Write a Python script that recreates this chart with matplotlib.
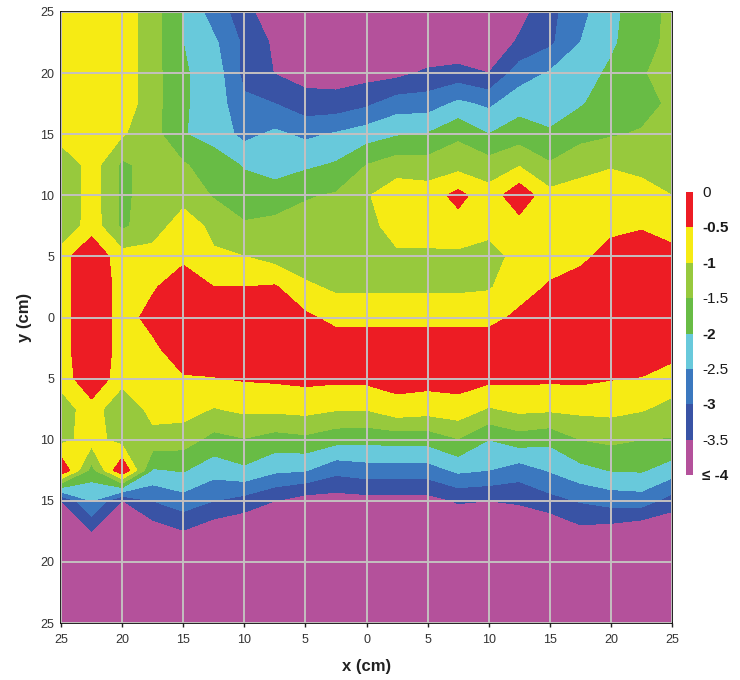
import numpy as np
import matplotlib
matplotlib.use('Agg')
import matplotlib.pyplot as plt
from matplotlib.colors import ListedColormap

plt.rcParams['font.family'] = ['Liberation Sans', 'DejaVu Sans']

# measurement grid (cm)
x = [-25, -22.5, -20, -17.5, -15, -12.5, -10, -7.5, -5, -2.5, 0, 2.5, 5, 7.5, 10, 12.5, 15, 17.5, 20, 22.5, 25]
y = [25, 22.5, 20, 17.5, 15, 12.5, 10, 7.5, 5, 2.5, 0, -2.5, -5, -7.5, -10, -12.5, -15, -17.5, -20, -22.5, -25]

# values, one row per y, top row first
z = [
    [-0.7, -0.7, -0.7, -1.3, -2.0, -2.75, -3.25, -4.0, -4.3, -4.5, -4.6, -4.6, -4.6, -4.6, -4.3, -3.7, -3.15, -2.65, -2.15, -1.7, -1.4],
    [-0.7, -0.7, -0.7, -1.3, -2.0, -2.4, -3.1, -3.6, -4.0, -4.2, -4.4, -4.3, -4.0, -4.0, -3.9, -3.42, -3.1, -2.5, -2.1, -1.65, -1.4],
    [-0.7, -0.7, -0.7, -1.3, -1.95, -2.2, -3.15, -3.52, -3.7, -3.75, -3.7, -3.65, -3.4, -3.3, -3.5, -2.75, -2.45, -2.25, -1.9, -1.55, -1.3],
    [-0.7, -0.7, -0.7, -1.3, -1.95, -2.2, -2.9, -3.0, -3.3, -3.3, -3.1, -2.75, -2.75, -2.4, -2.6, -2.2, -2.2, -2.05, -1.75, -1.7, -1.4],
    [-0.7, -0.7, -0.95, -1.3, -1.97, -2.2, -2.65, -2.4, -2.6, -2.45, -2.25, -2.05, -1.97, -1.6, -2.0, -1.75, -1.95, -1.65, -1.55, -1.45, -1.35],
    [-1.52, -0.75, -1.6, -1.3, -1.45, -1.75, -2.05, -2.2, -2.1, -1.95, -1.5, -1.25, -1.3, -1.2, -1.3, -1.05, -1.45, -1.2, -1.05, -1.15, -1.2],
    [-1.52, -0.75, -1.6, -1.3, -1.15, -1.55, -1.75, -1.8, -1.55, -1.45, -1.05, -0.7, -0.75, -0.35, -0.8, -0.15, -0.85, -0.75, -0.7, -0.8, -1.0],
    [-1.52, -0.72, -1.6, -1.2, -0.8, -1.1, -1.45, -1.35, -1.3, -1.2, -1.2, -0.75, -0.75, -0.7, -0.8, -0.7, -0.7, -0.65, -0.6, -0.55, -0.7],
    [-0.7, -0.1, -0.8, -0.85, -0.6, -0.95, -1.0, -1.2, -1.35, -1.15, -1.2, -1.1, -1.1, -1.1, -1.25, -0.8, -0.7, -0.6, -0.35, -0.2, -0.35],
    [-0.7, -0.1, -0.7, -0.55, -0.25, -0.5, -0.5, -0.45, -0.9, -1.1, -1.1, -1.1, -1.1, -1.1, -1.05, -0.7, -0.45, -0.3, -0.2, -0.2, -0.2],
    [-0.7, -0.1, -0.7, -0.35, -0.2, -0.2, -0.2, -0.3, -0.4, -0.65, -0.65, -0.65, -0.65, -0.65, -0.65, -0.4, -0.2, -0.2, -0.2, -0.2, -0.2],
    [-0.7, -0.1, -0.7, -0.6, -0.2, -0.2, -0.2, -0.2, -0.2, -0.2, -0.2, -0.2, -0.2, -0.2, -0.2, -0.2, -0.2, -0.2, -0.2, -0.2, -0.28],
    [-0.8, -0.1, -0.8, -0.65, -0.55, -0.52, -0.46, -0.43, -0.38, -0.4, -0.38, -0.3, -0.32, -0.3, -0.38, -0.4, -0.42, -0.4, -0.48, -0.52, -0.74],
    [-1.3, -0.7, -1.5, -0.8, -0.8, -1.03, -0.9, -0.89, -0.84, -0.96, -0.97, -0.7, -0.78, -0.7, -1.05, -0.88, -0.92, -0.88, -0.86, -0.96, -1.16],
    [-1.15, -0.8, -1.2, -1.2, -1.27, -1.67, -1.53, -1.72, -1.63, -1.83, -1.87, -1.82, -1.82, -1.53, -2.0, -1.75, -1.88, -1.5, -1.4, -1.5, -1.53],
    [-0.02, -1.7, -0.02, -2.05, -1.96, -2.3, -2.1, -2.4, -2.47, -2.85, -2.73, -2.73, -2.73, -2.4, -2.5, -2.75, -2.46, -2.16, -1.98, -1.95, -2.25],
    [-3.52, -2.5, -3.52, -3.0, -2.72, -3.0, -3.2, -3.5, -3.75, -3.75, -3.7, -3.7, -3.7, -3.45, -3.5, -3.43, -3.18, -2.96, -2.8, -2.75, -3.23],
    [-4, -3.5, -4, -3.8, -3.53, -3.85, -4, -4, -4, -4, -4, -4, -4, -4, -4, -4, -4, -3.65, -3.75, -3.95, -4],
    [-4, -4, -4, -4, -4, -4, -4, -4, -4, -4, -4, -4, -4, -4, -4, -4, -4, -4, -4, -4, -4],
    [-4, -4, -4, -4, -4, -4, -4, -4, -4, -4, -4, -4, -4, -4, -4, -4, -4, -4, -4, -4, -4],
    [-4, -4, -4, -4, -4, -4, -4, -4, -4, -4, -4, -4, -4, -4, -4, -4, -4, -4, -4, -4, -4],
]

levels = [-5, -3.5, -3, -2.5, -2, -1.5, -1, -0.5, 0]
colors = ['#B4519B', '#3953A5', '#3B78BF', '#68C9DB', '#68BC45', '#97C93D', '#F6EB14', '#ED1C24']
level_labels = ['0', '-0.5', '-1', '-1.5', '-2', '-2.5', '-3', '-3.5', '\u2264 -4']
tick_pos = [-25, -20, -15, -10, -5, 0, 5, 10, 15, 20, 25]
tick_txt = ['25', '20', '15', '10', '5', '0', '5', '10', '15', '20', '25']

W, H = 740, 680

fig = plt.figure(figsize=(W / 100, H / 100), dpi=100)
ax = fig.add_axes([61 / W, 1 - 623 / H, 611 / W, 611 / H])

ax.contourf(x, y, np.array(z), levels=levels, colors=colors, antialiased=False)
ax.set_xlim(-25, 25)
ax.set_ylim(-25, 25)
ax.set_xticks(tick_pos, tick_txt, fontsize=9, color='#333333')
ax.set_yticks(tick_pos, tick_txt, fontsize=9, color='#333333')
ax.tick_params(length=3, width=1, color='#222222', pad=5)
ax.tick_params(axis='y', length=0, pad=5)
ax.grid(True, color='#C4C0C0', lw=1.4)
ax.set_axisbelow(False)
for s in ax.spines.values():
    s.set_linewidth(1.3)
    s.set_color('#111111')
ax.set_xlabel('x (cm)', fontsize=12, fontweight='bold', color='#222222', labelpad=9)
ax.set_ylabel('y (cm)', fontsize=12, fontweight='bold', color='#222222', labelpad=6)

# colour key on the right, one even cell per colour
key = fig.add_axes([686 / W, 1 - 475 / H, 7.5 / W, 283 / H])
key.pcolormesh([0, 1], np.arange(len(colors) + 1), np.arange(len(colors)).reshape(-1, 1),
               cmap=ListedColormap(colors))
key.axis('off')
key_top = 192
key_step = 35.4
for i, txt in enumerate(level_labels):
    fig.text(702 / W, 1 - (key_top + 1 + i * key_step) / H, txt, fontsize=11, va='center', ha='left',
             color='#1a1a1a', fontweight='bold' if i in (1, 2, 4, 6, 8) else 'normal')

fig.savefig('out.png', dpi=100)
